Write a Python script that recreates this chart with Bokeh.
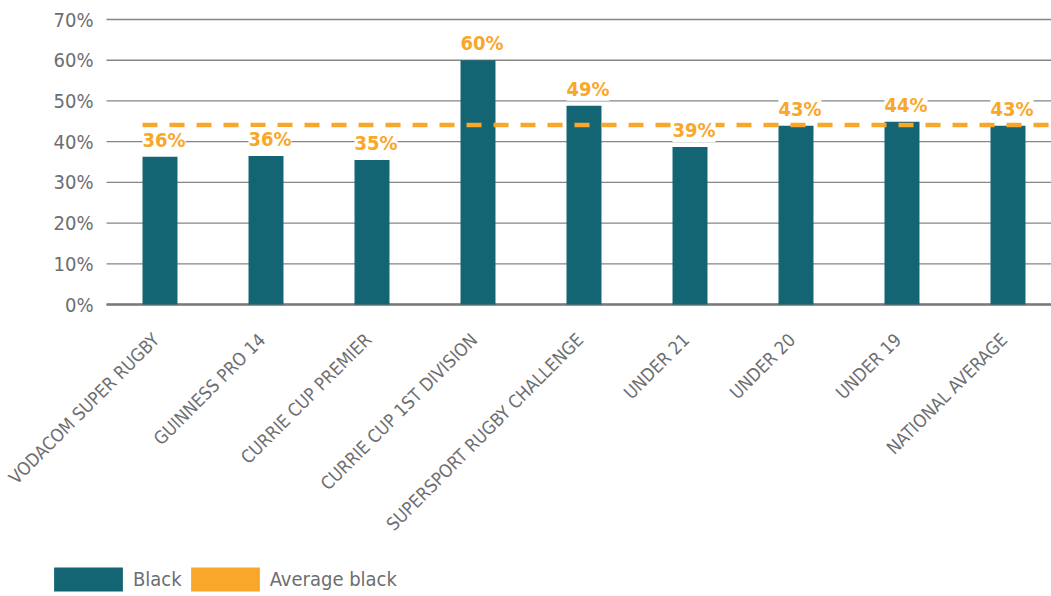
import numpy as np
from bokeh.plotting import figure
from bokeh.models import (Range1d, ColumnDataSource, LabelSet, Legend, LegendItem)
from bokeh.core.properties import value
from bokeh.embed import file_html
from bokeh.resources import INLINE

# ---- data ----
categories = ["VODACOM SUPER RUGBY", "GUINNESS PRO 14", "CURRIE CUP PREMIER",
              "CURRIE CUP 1ST DIVISION", "SUPERSPORT RUGBY CHALLENGE", "UNDER 21",
              "UNDER 20", "UNDER 19", "NATIONAL AVERAGE"]
black = [36.3, 36.5, 35.5, 60.0, 48.8, 38.7, 43.9, 44.9, 43.9]
black_labels = ["36%", "36%", "35%", "60%", "49%", "39%", "43%", "44%", "43%"]
average_black = 44.1
y_ticks = [0, 10, 20, 30, 40, 50, 60, 70]
y_tick_labels = ["0%", "10%", "20%", "30%", "40%", "50%", "60%", "70%"]
legend_labels = ["Black", "Average black"]

# ---- styles / layout ----
FONT = "DejaVu Sans Condensed, Roboto"
TEAL = "#146574"
ORANGE = "#F9A72B"
GREY_TEXT = "#6d6e71"
GRID = "#858585"
BAR_W = 0.33
X_RANGE = (-1.5047, 8.4104)     # whole canvas width in category units
Y_RANGE = (-71.72, 74.67)       # whole canvas height in percent units
AREA_LEFT = -0.5047             # left edge of the plotting area

xs = list(range(len(categories)))
src = ColumnDataSource(dict(x=xs, top=black, label=black_labels, cat=categories,
                            zero=[y_ticks[0]] * len(xs)))

p = figure(width=1051, height=596, x_range=Range1d(*X_RANGE), y_range=Range1d(*Y_RANGE),
           output_backend="svg", toolbar_location=None,
           x_axis_location=None, y_axis_location=None, min_border=0,
           outline_line_color=None, background_fill_color="white", border_fill_color="white")
p.grid.visible = False

# gridlines
grid_src = ColumnDataSource(dict(y=y_ticks, lab=y_tick_labels,
                                 x0=[AREA_LEFT] * len(y_ticks), x1=[X_RANGE[1]] * len(y_ticks)))
p.segment(x0="x0", x1="x1", y0="y", y1="y", source=grid_src, line_color=GRID, line_width=1.3)
p.segment(x0=[AREA_LEFT], x1=[X_RANGE[1]], y0=[y_ticks[0]], y1=[y_ticks[0]],
          line_color="#7a7a7a", line_width=2.6)

# y tick labels
p.add_layout(LabelSet(x="x0", y="y", text="lab", source=grid_src, x_offset=-13,
                      text_align="right", text_baseline="middle", text_font=value(FONT),
                      text_font_size="20px", text_color=GREY_TEXT))

# category labels
p.add_layout(LabelSet(x="x", y="zero", text="cat", source=src, angle=np.pi / 4,
                      x_offset=-4, y_offset=-32, text_align="right", text_baseline="middle",
                      text_font=value(FONT), text_font_size="18px", text_color=GREY_TEXT))

bars = p.vbar(x="x", top="top", width=BAR_W, source=src, fill_color=TEAL, line_color=None)

line_src = ColumnDataSource(dict(x=[xs[0] - BAR_W / 2, len(categories)],
                                 y=[average_black, average_black]))
p.line(x="x", y="y", source=line_src, line_color=ORANGE, line_width=4.5, line_dash="15 12")

p.add_layout(LabelSet(x="x", y="top", text="label", source=src, x_offset=4, y_offset=5,
                      text_align="center", text_baseline="bottom", text_font=value(FONT),
                      text_font_style="bold", text_font_size="20px", text_color=ORANGE,
                      background_fill_color="white"))

# legend swatch for the average line (zero-width, only used by the legend)
avg_swatch = p.vbar(x=[xs[0]], top=[average_black], width=0, fill_color=ORANGE,
                    line_color=None)

legend = Legend(items=[LegendItem(label=legend_labels[0], renderers=[bars]),
                       LegendItem(label=legend_labels[1], renderers=[avg_swatch])],
                location=(45, 2), orientation="horizontal",
                glyph_width=86, glyph_height=30, label_standoff=2, spacing=0,
                padding=0, margin=0, border_line_color=None, background_fill_alpha=0,
                label_text_font=FONT, label_text_font_size="20px",
                label_text_color=GREY_TEXT)
p.add_layout(legend, "center")

open("out.html", "w").write(file_html(p, INLINE))
